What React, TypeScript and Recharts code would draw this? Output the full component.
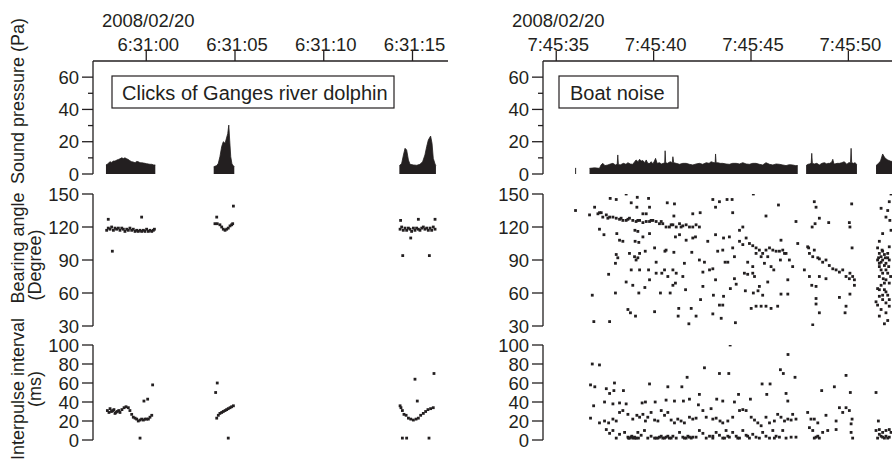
import { ComposedChart, ScatterChart, Scatter, Area, XAxis, YAxis } from "recharts";

const INK = "#231f20";
const FONT = "'Liberation Sans', Arial, Helvetica, sans-serif";

// x values are seconds after the first labelled tick
const dateLabel = "2008/02/20";
const timeTicks = [0, 5, 10, 15];
const dolphinTimeLabels = ["6:31:00", "6:31:05", "6:31:10", "6:31:15"];
const boatTimeLabels = ["7:45:35", "7:45:40", "7:45:45", "7:45:50"];
const pressureTicks = [0, 10, 20, 30, 40, 50, 60];
const bearingTicks = [30, 60, 90, 120, 150];
const ipiTicks = [0, 20, 40, 60, 80, 100];

// sound pressure envelope (Pa), one list per burst
const dolphinSound: number[][][] = [
  [[-2.27, 5.6], [-2.18, 6.2], [-2.04, 7.6], [-1.95, 7.2], [-1.85, 8.0], [-1.76, 8.0], [-1.66, 8.6], [-1.57, 9.0], [-1.48, 9.4], [-1.38, 10.0], [-1.29, 9.6], [-1.2, 10.0], [-1.1, 9.4], [-1.01, 9.0], [-0.92, 8.2], [-0.82, 7.6], [-0.73, 7.4], [-0.63, 7.0], [-0.54, 7.8], [-0.45, 7.6], [-0.35, 7.0], [-0.26, 7.0], [-0.16, 6.8], [-0.07, 6.6], [0.02, 6.4], [0.12, 6.2], [0.21, 6.0], [0.31, 6.0], [0.42, 5.6], [0.51, 5.6]],
  [[3.8, 4.5], [3.97, 5.2], [4.06, 6.6], [4.15, 10.7], [4.25, 17.0], [4.34, 20.0], [4.44, 19.0], [4.49, 21.0], [4.59, 25.0], [4.65, 30.3], [4.7, 21.0], [4.76, 10.7], [4.83, 6.2], [4.9, 5.2], [4.96, 4.5]],
  [[14.26, 5.0], [14.39, 6.6], [14.49, 11.8], [14.58, 15.9], [14.67, 14.9], [14.77, 8.7], [14.86, 6.0], [15.05, 5.6], [15.24, 5.4], [15.42, 6.0], [15.57, 7.6], [15.7, 11.8], [15.8, 17.0], [15.89, 21.0], [16.02, 23.5], [16.1, 19.0], [16.17, 9.7], [16.27, 6.2], [16.32, 5.0]],
];

const boatSound: number[][][] = [
  [[0.97, 3.5], [1.02, 3.5]],
  [[1.71, 3.5], [1.97, 3.8], [2.22, 3.5], [2.3, 5.6], [2.39, 6.6], [2.5, 5.2], [2.65, 5.6], [2.78, 6.2], [2.91, 6.6], [3.04, 5.6], [3.13, 6.0], [3.16, 11.8], [3.19, 6.0], [3.28, 5.6], [3.45, 6.6], [3.58, 6.0], [3.68, 7.0], [3.8, 6.2], [3.93, 6.0], [4.02, 7.5], [4.1, 8.7], [4.2, 7.6], [4.28, 9.1], [4.36, 8.0], [4.45, 8.3], [4.55, 7.0], [4.62, 8.7], [4.7, 6.6], [4.79, 6.6], [4.88, 7.6], [4.96, 6.2], [5.04, 8.0], [5.1, 9.7], [5.18, 6.6], [5.3, 7.0], [5.4, 6.2], [5.5, 6.6], [5.57, 7.0], [5.59, 14.4], [5.62, 7.0], [5.71, 6.6], [5.85, 7.6], [5.96, 7.0], [5.99, 10.7], [6.03, 7.0], [6.16, 6.6], [6.33, 6.0], [6.5, 6.6], [6.67, 6.6], [6.84, 6.0], [7.01, 5.6], [7.18, 6.2], [7.35, 6.6], [7.52, 6.0], [7.7, 7.0], [7.85, 6.6], [7.95, 7.6], [8.1, 7.0], [8.16, 7.0], [8.18, 12.4], [8.21, 7.0], [8.29, 7.0], [8.42, 6.6], [8.55, 6.6], [8.72, 6.2], [8.89, 6.0], [9.06, 6.6], [9.24, 6.6], [9.41, 6.2], [9.58, 7.0], [9.75, 6.2], [9.92, 6.0], [10.09, 6.6], [10.26, 6.6], [10.43, 6.0], [10.6, 5.6], [10.77, 7.0], [10.95, 6.0], [11.12, 5.6], [11.29, 6.2], [11.46, 6.0], [11.63, 5.6], [11.8, 5.2], [11.97, 5.8], [12.14, 5.6], [12.28, 5.2], [12.4, 5.2]],
  [[12.83, 5.2], [12.92, 6.0], [13.0, 6.2], [13.09, 6.6], [13.12, 12.8], [13.15, 6.6], [13.25, 6.2], [13.38, 6.6], [13.51, 5.6], [13.64, 6.6], [13.77, 7.0], [13.9, 6.2], [13.94, 6.6], [14.05, 6.6], [14.15, 7.5], [14.2, 9.1], [14.25, 6.6], [14.3, 6.2], [14.42, 6.6], [14.54, 6.6], [14.66, 7.0], [14.79, 7.6], [14.92, 6.0], [15.02, 7.0], [15.11, 7.0], [15.14, 15.9], [15.17, 7.0], [15.26, 6.6], [15.35, 7.0], [15.44, 5.6]],
  [[16.42, 5.2], [16.55, 6.6], [16.65, 8.0], [16.76, 12.4], [16.85, 10.5], [16.9, 9.7], [17.02, 8.7], [17.15, 8.0], [17.3, 7.6]],
];

// bearing angle (degree)
const dolphinBearing: number[][] = [
  [-2.14, 127], [-0.26, 129], [-1.91, 98],
  [-2.23, 117], [-2.14, 119], [-2.04, 118], [-1.95, 120], [-1.85, 117], [-1.76, 119], [-1.67, 118], [-1.57, 119], [-1.48, 117], [-1.38, 119], [-1.29, 118], [-1.2, 116], [-1.1, 118], [-1.01, 117], [-0.92, 119], [-0.82, 117], [-0.73, 118], [-0.63, 116], [-0.54, 117], [-0.45, 116], [-0.35, 117], [-0.26, 116], [-0.16, 117], [-0.07, 116], [0.02, 118], [0.12, 116], [0.21, 117], [0.31, 116], [0.4, 117], [0.46, 118],
  [3.97, 129], [4.91, 139], [3.87, 123], [4.0, 123], [4.15, 122], [4.25, 120], [4.34, 118], [4.44, 117], [4.53, 118], [4.62, 119], [4.72, 121], [4.81, 122], [4.87, 123],
  [14.33, 126], [15.33, 127], [16.27, 127], [14.9, 110], [14.45, 94], [15.95, 94],
  [14.3, 118], [14.39, 120], [14.48, 117], [14.58, 119], [14.67, 117], [14.77, 119], [14.86, 118], [14.95, 116], [15.05, 119], [15.14, 117], [15.23, 119], [15.33, 118], [15.42, 117], [15.52, 119], [15.61, 120], [15.7, 118], [15.8, 119], [15.89, 117], [15.99, 119], [16.08, 117], [16.17, 120], [16.27, 118],
];

const boatBearing: number[][] = [
  [1.71, 131], [2.39, 129], [2.57, 131], [2.74, 129], [2.91, 129], [3.08, 128], [3.25, 127], [3.42, 126], [3.59, 126], [3.76, 128], [3.93, 126], [4.1, 125], [4.28, 126], [4.45, 124], [4.62, 125], [4.79, 125], [4.96, 126], [5.13, 125], [5.3, 123], [5.47, 123], [5.64, 120], [5.81, 120], [5.99, 122], [6.16, 120], [6.33, 123], [6.5, 121], [6.67, 122], [6.84, 120], [7.01, 120], [7.18, 122], [7.35, 120],
  [2.14, 132], [2.31, 133], [2.65, 128], [3.33, 128], [3.68, 127], [4.19, 126], [4.87, 126], [5.39, 125], [5.9, 122], [6.41, 120],
  [0.99, 135], [1.97, 138], [2.22, 133], [2.77, 146], [3.08, 145], [3.59, 150], [3.85, 142], [4.16, 147], [4.74, 146], [4.14, 138], [4.45, 132], [4.62, 132], [4.79, 138], [5.7, 142], [6.07, 141], [6.04, 130], [7.01, 132], [7.39, 133], [8.04, 145], [8.18, 138], [8.38, 143], [8.77, 145], [9.03, 145], [9.06, 133], [10.12, 150], [10.77, 130], [11.41, 140], [12.31, 125], [13.25, 143], [13.34, 138], [13.14, 120], [13.29, 123], [13.51, 128], [13.99, 124], [15.05, 124], [15.08, 120], [15.17, 141], [12.4, 105], [12.96, 101],
  [2.22, 118], [2.45, 113], [3.11, 114], [3.25, 108], [3.42, 107], [4.04, 117], [4.19, 116], [4.05, 107], [4.24, 106], [4.45, 111], [4.79, 114], [5.05, 101], [5.64, 99], [6.12, 111], [6.33, 113], [6.67, 108], [7.01, 110], [7.15, 111], [7.78, 107], [8.18, 113], [8.59, 110], [8.89, 111], [9.41, 117], [9.58, 120], [9.41, 107], [9.58, 104], [9.75, 110], [9.92, 105], [10.09, 103], [10.26, 101], [10.43, 99], [10.6, 96], [10.77, 99], [10.95, 101], [11.12, 99], [11.29, 98], [11.46, 98], [11.63, 99], [11.8, 96], [11.54, 108], [11.97, 90], [12.91, 102], [13.0, 96], [13.17, 93], [13.25, 99], [13.43, 92], [13.51, 91], [13.68, 88], [13.85, 90], [14.02, 85], [14.2, 82], [14.37, 81], [14.54, 79], [14.71, 81], [14.88, 75], [15.05, 73], [15.22, 75], [15.31, 72], [15.19, 101],
  [3.08, 95], [3.16, 92], [3.04, 87], [3.76, 96], [4.02, 93], [4.19, 92], [4.28, 96], [4.1, 90], [4.57, 98], [5.13, 88], [5.58, 98], [6.04, 97], [6.58, 87], [6.96, 97], [7.35, 90], [7.61, 88], [8.29, 98], [8.55, 99], [9.06, 101], [9.15, 93], [8.81, 88], [9.83, 88], [10.09, 84], [10.26, 96], [10.52, 93], [10.69, 87], [10.86, 93], [11.03, 84], [11.17, 81], [11.51, 90], [11.72, 96], [12.14, 84], [12.74, 81],
  [2.69, 77], [3.85, 81], [4.28, 81], [4.74, 81], [4.79, 72], [5.13, 78], [5.42, 78], [5.56, 81], [5.73, 75], [5.99, 81], [6.16, 78], [6.5, 75], [5.99, 67], [6.12, 69], [7.53, 79], [7.87, 81], [8.04, 82], [8.18, 72], [7.53, 66], [8.67, 88], [9.15, 73], [9.66, 78], [9.83, 77], [10.09, 78], [10.18, 75], [10.43, 66], [10.86, 70], [11.89, 72], [13.0, 75], [13.34, 66], [13.51, 75], [13.85, 73], [15.31, 67],
  [1.85, 58], [3.04, 60], [3.59, 70], [3.93, 67], [4.24, 60], [4.55, 65], [5.35, 60], [5.85, 60], [6.64, 63], [7.41, 54], [8.07, 58], [8.59, 57], [8.94, 64], [9.24, 68], [9.71, 62], [10.12, 60], [10.36, 62], [10.6, 58], [11.54, 59], [11.89, 59], [13.12, 67], [13.34, 55], [13.34, 50], [14.54, 56], [15.08, 59], [14.88, 48], [15.08, 78],
  [3.68, 45], [3.81, 42], [4.07, 39], [5.05, 43], [6.29, 46], [6.26, 39], [6.93, 46], [7.18, 39], [6.81, 32], [8.04, 41], [8.47, 37], [8.38, 49], [8.55, 49], [9.2, 33], [10.01, 46], [10.26, 48], [10.52, 48], [10.77, 48], [11.03, 46], [11.37, 48], [13.51, 42], [14.83, 42], [13.17, 31], [1.93, 34], [2.74, 34],
  [16.68, 137], [17.02, 135], [17.1, 143], [17.19, 150], [16.93, 129], [16.76, 114], [16.59, 107], [16.5, 101], [16.59, 96], [16.68, 93], [16.76, 90], [16.59, 87], [16.85, 85], [17.02, 96], [17.1, 102], [16.93, 81], [16.76, 78], [16.59, 75], [16.93, 72], [17.1, 69], [16.68, 67], [16.5, 64], [16.85, 63], [17.02, 58], [16.59, 57], [16.76, 54], [16.93, 51], [16.5, 49], [17.1, 48], [16.68, 45], [16.93, 42], [16.59, 39], [17.02, 35], [16.85, 32], [17.19, 117], [17.13, 126], [17.07, 84], [16.9, 92], [16.73, 99], [16.55, 92], [16.79, 73], [17.17, 75], [16.42, 52],
  [16.5, 90], [16.68, 88], [16.85, 95], [17.02, 92], [16.59, 84], [16.76, 98], [16.93, 87], [17.1, 90], [16.68, 81], [17.02, 78], [16.85, 69], [16.59, 63], [16.93, 61], [16.76, 58], [17.1, 54],
];

// interpulse interval (ms)
const dolphinIpi: number[][] = [
  [-2.19, 31], [-2.04, 33], [-1.89, 31], [-1.76, 28], [-1.63, 30], [-1.48, 29], [-1.37, 32], [-1.25, 34], [-1.14, 35], [-1.01, 34], [-0.92, 31], [-0.82, 27], [-0.73, 24], [-0.63, 23], [-0.54, 22], [-0.45, 20], [-0.35, 21], [-0.26, 22], [-0.16, 21], [-0.07, 22], [0.02, 22], [0.12, 22], [0.21, 24], [0.31, 26],
  [-2.1, 29], [-1.96, 30], [-1.82, 32], [-1.71, 29], [-1.55, 31],
  [-0.35, 2], [-0.13, 41], [0.08, 43], [0.36, 58],
  [4.0, 60], [3.91, 50], [3.97, 23], [4.06, 26], [4.15, 28], [4.25, 29], [4.34, 30], [4.44, 31], [4.53, 32], [4.62, 33], [4.72, 34], [4.81, 35], [4.91, 36], [4.62, 2],
  [14.3, 36], [14.35, 34], [14.43, 31], [14.52, 27], [14.64, 26], [14.77, 23], [14.9, 22], [15.05, 21], [15.2, 22], [15.33, 23], [15.46, 26], [15.61, 28], [15.74, 30], [15.87, 32], [16.02, 33], [16.17, 34],
  [14.43, 2], [14.67, 2], [15.93, 2], [15.27, 41], [15.14, 64], [16.21, 70],
];

const boatIpi: number[][] = [
  [1.85, 80], [2.22, 79], [1.76, 58], [1.98, 56], [1.92, 36], [1.76, 23], [2.57, 54], [2.74, 49], [2.99, 60], [2.96, 52], [3.45, 52], [4.79, 59], [5.73, 56], [6.45, 56], [6.72, 66], [7.61, 76], [7.35, 48], [8.38, 70], [8.86, 70], [8.93, 100], [9.36, 48], [11.51, 74], [11.66, 70], [11.9, 90], [12.26, 66], [10.57, 59], [10.98, 59], [10.81, 48], [11.8, 49], [11.89, 41], [13.63, 52], [14.28, 56], [14.88, 68], [15.1, 50], [16.42, 50], [16.54, 20],
  [9.97, 43], [9.15, 40], [8.55, 41], [8.24, 43], [7.3, 37], [6.84, 43], [6.53, 41], [6.07, 41], [5.64, 42], [5.08, 40], [4.41, 39], [4.58, 40], [3.59, 38], [3.25, 39], [2.91, 38], [2.48, 40],
  [2.22, 18], [2.48, 20], [2.69, 18], [2.91, 22], [3.08, 20], [3.25, 29], [3.42, 31], [3.68, 27], [3.93, 22], [4.14, 26], [4.28, 24], [4.45, 27], [4.58, 20], [4.7, 24], [4.87, 29], [5.05, 21], [5.22, 20], [5.39, 31], [5.56, 26], [5.73, 29], [5.9, 21], [6.07, 18], [6.24, 22], [6.41, 20], [6.58, 18], [6.84, 24], [7.01, 22], [7.18, 23], [7.53, 31], [7.7, 24], [7.95, 33], [8.04, 22], [8.21, 23], [8.41, 20], [8.55, 18], [8.81, 20], [9.06, 24], [9.41, 31], [9.58, 32], [9.75, 31], [10.01, 24], [10.18, 21], [10.35, 18], [10.52, 15], [10.77, 24], [10.95, 18], [11.2, 20], [11.37, 27], [11.54, 24], [11.72, 20], [11.89, 22], [12.06, 21], [12.14, 27], [12.31, 22], [12.91, 29], [13.08, 22], [13.25, 22], [13.43, 18], [13.85, 26], [14.37, 20], [14.71, 29], [14.88, 34], [15.05, 31], [15.19, 22], [15.14, 17], [14.54, 34],
  [2.57, 11], [2.74, 7], [2.91, 10], [3.08, 2], [3.25, 6], [3.51, 8], [3.68, 3], [3.76, 2], [3.85, 3], [3.93, 2], [4.02, 3], [4.1, 2], [4.19, 8], [4.36, 5], [4.53, 10], [4.7, 2], [4.87, 4], [5.05, 2], [5.13, 2], [5.3, 3], [5.47, 2], [5.64, 3], [5.81, 2], [5.99, 4], [6.16, 2], [6.33, 8], [6.5, 3], [6.67, 2], [6.84, 3], [7.01, 3], [7.18, 3], [7.35, 10], [7.53, 7], [7.7, 2], [7.87, 4], [8.04, 2], [8.21, 8], [8.38, 5], [8.55, 2], [8.72, 10], [8.89, 3], [9.06, 8], [9.24, 4], [9.41, 2], [9.58, 10], [9.75, 5], [9.92, 2], [10.09, 6], [10.26, 3], [10.43, 2], [10.6, 8], [10.77, 4], [10.95, 2], [11.12, 10], [11.29, 4], [11.46, 3], [11.63, 10], [11.8, 2], [12.06, 3], [12.31, 3], [13.0, 13], [13.17, 10], [13.34, 3], [13.51, 2], [13.68, 8], [13.94, 10], [14.37, 11], [15.14, 8], [15.22, 2],
  [16.42, 10], [16.59, 6], [16.76, 3], [16.93, 10], [17.1, 3], [17.19, 8], [16.5, 2], [16.85, 2], [17.02, 2], [16.59, 11], [17.1, 11],
  [3.71, 2], [3.88, 4], [4.05, 2], [4.22, 2], [5.22, 2], [5.39, 4], [5.56, 2], [5.73, 4], [5.9, 2], [6.58, 2], [6.76, 4], [6.93, 2], [8.04, 4], [8.64, 2], [8.81, 4], [9.32, 2], [9.83, 4], [11.2, 2], [13.25, 2], [13.43, 4], [16.68, 4], [16.93, 4], [16.76, 8],
];

const toArea = (segs: number[][][]) =>
  segs.flatMap((seg, i) => {
    const rows = seg.map(([t, p]) => ({ t, p }));
    if (i === 0) return rows;
    const prev = segs[i - 1][segs[i - 1].length - 1][0];
    return [{ t: (prev + seg[0][0]) / 2, p: null as number | null }, ...rows];
  });

const toPts = (pts: number[][]) => pts.map(([t, v]) => ({ t, v }));

const Square = (p: any) => <rect x={p.cx - 1.4} y={p.cy - 1.4} width={2.8} height={2.8} fill={INK} />;

function TimeTick({ x, y, payload, labels }: any) {
  const i = timeTicks.indexOf(payload.value);
  return (
    <g fill={INK} fontSize={18.5} fontFamily={FONT} textAnchor="middle">
      {i === 0 && <text x={x + 2} y={y - 24}>{dateLabel}</text>}
      <text x={x + 2} y={y}>{labels[i]}</text>
    </g>
  );
}

function ValueTick({ x, y, payload, every }: any) {
  const major = payload.value % every === 0;
  return (
    <g>
      <line x1={x} x2={x - (major ? 11 : 5)} y1={y} y2={y} stroke={INK} strokeWidth={1.3} />
      {major && (
        <text x={x - 14} y={y} dy="0.36em" textAnchor="end" fill={INK} fontSize={18.5} fontFamily={FONT}>
          {payload.value}
        </text>
      )}
    </g>
  );
}

const axisLine = { stroke: INK, strokeWidth: 1.3 };

function Panel({ left, width, axisW, right, domain, labels, sound, bearing, ipi }: any) {
  const yProps = { tickLine: false, tickSize: 0, tickMargin: 0, axisLine, interval: 0 as const, allowDataOverflow: true, type: "number" as const };
  const hiddenX = <XAxis type="number" dataKey="t" domain={domain} hide allowDataOverflow />;
  return (
    <>
      <div style={{ position: "absolute", left, top: 0 }}>
        <ComposedChart width={width} height={190} data={toArea(sound)} margin={{ top: 0, right, bottom: 16, left: 0 }}>
          <XAxis
            type="number"
            dataKey="t"
            orientation="top"
            domain={domain}
            ticks={timeTicks}
            interval={0}
            height={61}
            tickSize={10}
            tickMargin={0}
            allowDataOverflow
            axisLine={axisLine}
            tickLine={axisLine}
            tick={(p: any) => <TimeTick {...p} labels={labels} />}
          />
          <YAxis {...yProps} width={axisW} domain={[0, 70]} ticks={pressureTicks} tick={(p: any) => <ValueTick {...p} every={20} />} />
          <Area type="linear" dataKey="p" stroke={INK} strokeWidth={0.8} fill={INK} fillOpacity={1} connectNulls={false} dot={false} activeDot={false} isAnimationActive={false} />
        </ComposedChart>
      </div>
      <div style={{ position: "absolute", left, top: 180 }}>
        <ScatterChart width={width} height={160} margin={{ top: 14, right, bottom: 14, left: 0 }}>
          {hiddenX}
          <YAxis {...yProps} dataKey="v" width={axisW} domain={[30, 150]} ticks={bearingTicks} tick={(p: any) => <ValueTick {...p} every={30} />} />
          <Scatter data={toPts(bearing)} shape={Square} isAnimationActive={false} />
        </ScatterChart>
      </div>
      <div style={{ position: "absolute", left, top: 331 }}>
        <ScatterChart width={width} height={123} margin={{ top: 14, right, bottom: 14, left: 0 }}>
          {hiddenX}
          <YAxis {...yProps} dataKey="v" width={axisW} domain={[0, 100]} ticks={ipiTicks} tick={(p: any) => <ValueTick {...p} every={20} />} />
          <Scatter data={toPts(ipi)} shape={Square} isAnimationActive={false} />
        </ScatterChart>
      </div>
    </>
  );
}

function Title({ x, y, children }: any) {
  return (
    <text transform={`translate(${x},${y}) rotate(-90)`} dy="0.35em" textAnchor="middle" fill={INK} fontSize={18} fontFamily={FONT}>
      {children}
    </text>
  );
}

export default function App() {
  return (
    <div style={{ position: "absolute", left: 0, top: 0, width: 892, height: 462, background: "#fff", overflow: "hidden", fontFamily: FONT }}>
      <Panel left={0} width={460} axisW={93} right={12} domain={[-3, 17]} labels={dolphinTimeLabels} sound={dolphinSound} bearing={dolphinBearing} ipi={dolphinIpi} />
      <Panel left={446} width={446} axisW={97} right={0} domain={[-0.68, 17.24]} labels={boatTimeLabels} sound={boatSound} bearing={boatBearing} ipi={boatIpi} />
      <svg width={892} height={462} style={{ position: "absolute", left: 0, top: 0, pointerEvents: "none" }}>
        <Title x={18} y={101}>Sound pressure (Pa)</Title>
        <Title x={18} y={248}>Bearing angle</Title>
        <Title x={35} y={265}>(Degree)</Title>
        <Title x={18} y={389}>Interpulse interval</Title>
        <Title x={35} y={389}>(ms)</Title>
        <rect x={112} y={76} width={282} height={32} fill="#fff" stroke={INK} strokeWidth={1.2} />
        <text x={122} y={99.5} fill={INK} fontSize={20} fontFamily={FONT}>Clicks of Ganges river dolphin</text>
        <rect x={559} y={76} width={119} height={32} fill="#fff" stroke={INK} strokeWidth={1.2} />
        <text x={570} y={99.5} fill={INK} fontSize={20} fontFamily={FONT}>Boat noise</text>
      </svg>
    </div>
  );
}
